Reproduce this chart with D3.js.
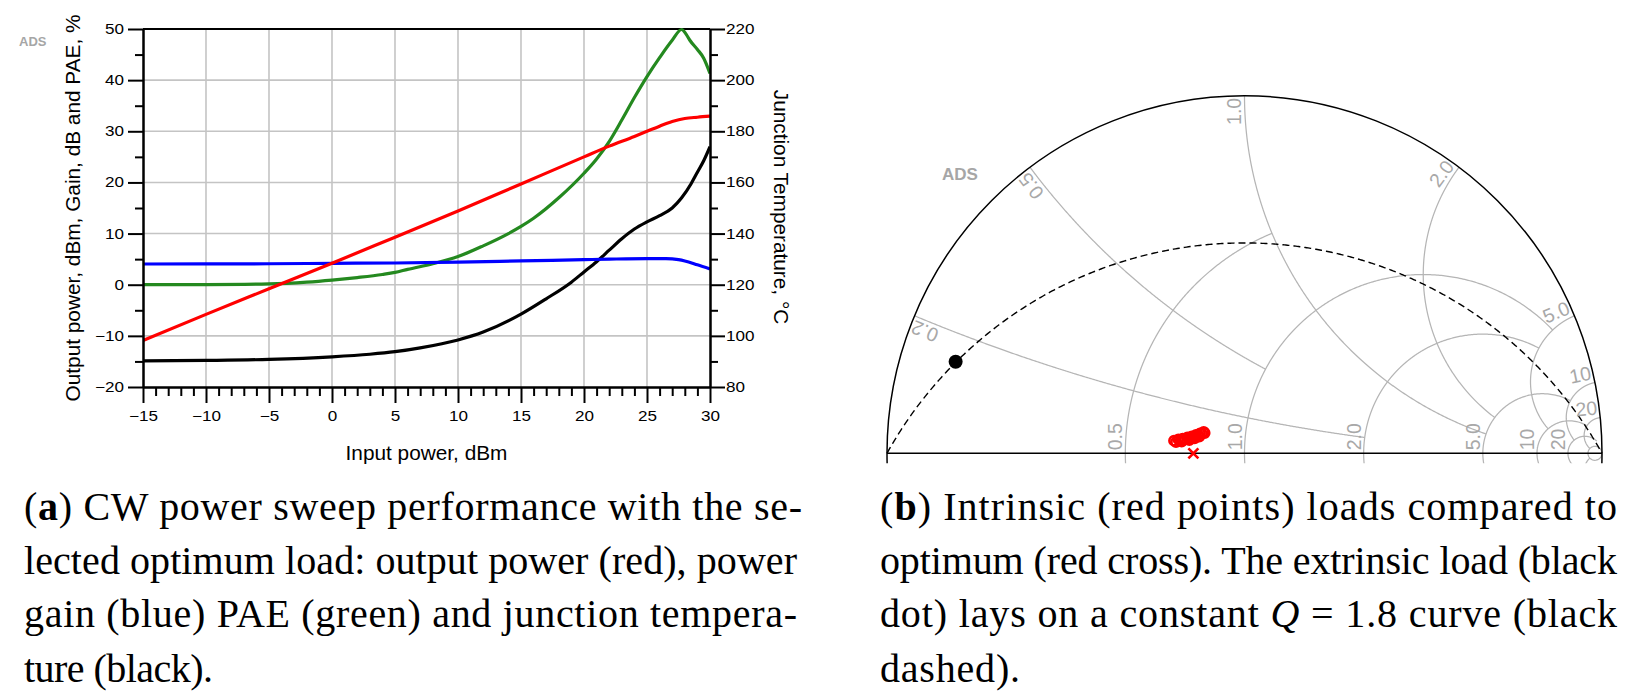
<!DOCTYPE html>
<html><head><meta charset="utf-8">
<script src="https://cdn.jsdelivr.net/npm/d3@7"></script>
<style>body{margin:0;background:#fff;} svg{display:block;}</style>
</head><body>
<svg id="c" width="1636" height="700"></svg>
<script>
// ---------- data: power sweep ----------
const pinMajorTicks = [-15,-10,-5,0,5,10,15,20,25,30];
const leftTicks = [-20,-10,0,10,20,30,40,50];
const rightTicks = [80,100,120,140,160,180,200,220];

const poutPin = [-15,-10,-5,0,5,10,15,20,22,24,25,26,27,28,29,30];
const poutDbm = [-10.9,-5.8,-0.8,4.2,9.3,14.4,19.7,25.0,27.1,29.0,30.0,31.0,31.9,32.5,32.75,32.95];

const gainPin = [-15,-10,-5,0,5,10,15,20,22,25,26.5,27.5,28,29,30];
const gainDb  = [4.05,4.07,4.1,4.18,4.25,4.4,4.65,4.9,5.0,5.1,5.1,4.9,4.65,3.9,3.1];

const paePin = [-15,-10,-5,-2,0,2,4,5,6,8,10,12,14,15,16,18,20,21,22,23,24,25,26,27,27.75,28.1,28.4,29,29.5,30];
const paePct = [0,0.02,0.15,0.5,0.9,1.4,2.0,2.4,3.0,4.1,5.5,7.6,10.0,11.4,13.0,17.0,21.8,24.6,28.0,32.2,36.6,40.7,44.4,47.8,49.9,49.0,47.8,46.0,44.3,41.3];

const tjPin = [-15,-10,-5,0,3,5,7,10,12,15,17,19,20,21,22,23,24,25,26,27,27.75,28.5,29,29.5,30];
const tjC   = [90.2,90.4,90.8,91.8,92.8,93.8,95.3,98.4,101.5,108.5,114.5,121,125,129,133.5,138,141.8,144.6,147,150,154,159.5,164,168.5,174];

// ---------- data: Smith chart ----------
const rCircles = [0.5,1,2,5,10,20,50];
const rCircleMaxX = [1,5,5,10,20,50,1000];
const xArcs = [0.2,0.5,1,2,5,10,20];
const xArcMaxR = [2,1,5,5,10,20,50];
const rLabels = ["0.5","1.0","2.0","5.0","10","20"];
const xLabels = ["0.2","0.5","1.0","2.0","5.0","10","20"];
const qConst = 1.8;
const extrinsicLoad = [-0.808, 0.256];
const optimumLoad = [-0.143, 0.0];
const intrinsicRe = [-0.1972,-0.1916,-0.1851,-0.1786,-0.1730,-0.1664,-0.1599,-0.1543,-0.1478,-0.1413,-0.1357,-0.1291,-0.1245,-0.1189,-0.1142,-0.1114,-0.1264,-0.1394,-0.1543,-0.1757];
const intrinsicIm = [0.0353,0.0316,0.0391,0.0363,0.0409,0.0391,0.0447,0.0419,0.0475,0.0465,0.0512,0.0512,0.0559,0.0549,0.0596,0.0568,0.0465,0.0419,0.0372,0.0325];

// ---------- captions ----------
const capA = [
  [["(",""],["a","b"],[") CW power sweep performance with the se-",""]],
  [["lected optimum load: output power (red), power",""]],
  [["gain (blue) PAE (green) and junction tempera-",""]],
  [["ture (black).",""]]
];
const capB = [
  [["(",""],["b","b"],[") Intrinsic (red points) loads compared to",""]],
  [["optimum (red cross). The extrinsic load (black",""]],
  [["dot) lays on a constant ",""],["Q","i"],[" = 1.8 curve (black",""]],
  [["dashed).",""]]
];

const svg = d3.select("#c");
const SANS = "'Liberation Sans', Arial, sans-serif";

// ================= LEFT CHART =================
const x = d3.scaleLinear().domain([-15,30]).range([143,710]);
const yL = d3.scaleLinear().domain([-20,50]).range([387,29]);
const yR = d3.scaleLinear().domain([80,220]).range([387,29]);
const L = svg.append("g");

// grid
L.append("g").selectAll("line").data(pinMajorTicks.slice(1,-1)).join("line")
  .attr("x1",d=>x(d)).attr("x2",d=>x(d)).attr("y1",yL(-20)).attr("y2",yL(50))
  .attr("stroke","#c4c4c4").attr("stroke-width",1.6);
L.append("g").selectAll("line").data(leftTicks.slice(1,-1)).join("line")
  .attr("y1",d=>yL(d)).attr("y2",d=>yL(d)).attr("x1",x(-15)).attr("x2",x(30))
  .attr("stroke","#c4c4c4").attr("stroke-width",1.6);
// top border
L.append("line").attr("x1",x(-15)).attr("x2",x(30)).attr("y1",yL(50)).attr("y2",yL(50))
  .attr("stroke","#000").attr("stroke-width",2);

// curves
const clipL = svg.append("defs").append("clipPath").attr("id","clipL");
clipL.append("rect").attr("x",x(-15)).attr("y",yL(50)-2).attr("width",x(30)-x(-15)).attr("height",yL(-20)-yL(50)+2);
const curves = L.append("g").attr("clip-path","url(#clipL)");
function drawSeries(xs, ys, yScale, color){
  const line = d3.line().x(d=>x(d[0])).y(d=>yScale(d[1])).curve(d3.curveMonotoneX);
  curves.append("path").attr("d", line(xs.map((v,i)=>[v,ys[i]])))
    .attr("fill","none").attr("stroke",color).attr("stroke-width",3.2)
    .attr("stroke-linejoin","round").attr("stroke-linecap","butt");
}
drawSeries(tjPin, tjC, yR, "#000000");
drawSeries(paePin, paePct, yL, "#24891f");
drawSeries(gainPin, gainDb, yL, "#0000ff");
drawSeries(poutPin, poutDbm, yL, "#ff0000");

// axes
function styleAxis(g){
  g.selectAll(".domain").attr("stroke","#000").attr("stroke-width",2);
  g.selectAll(".tick line").attr("stroke","#000").attr("stroke-width",2);
  g.selectAll("text").attr("font-family",SANS).attr("font-size",14).attr("fill","#000")
    .each(function(){
      const w = this.getComputedTextLength();
      if (w > 0) d3.select(this).attr("textLength", w*1.22).attr("lengthAdjust","spacingAndGlyphs");
    });
}
const minorX = d3.range(-15,31).filter(v=>v%5!==0);
const minorL = d3.range(-15,50,10);
const minorR = d3.range(90,220,20);

L.append("g").attr("transform",`translate(0,${yL(-20)})`)
  .call(d3.axisBottom(x).tickValues(minorX).tickSize(9).tickFormat("").tickSizeOuter(0)).call(styleAxis);
L.append("g").attr("transform",`translate(0,${yL(-20)})`)
  .call(d3.axisBottom(x).tickValues(pinMajorTicks).tickSize(16).tickPadding(8).tickSizeOuter(0)).call(styleAxis);
L.append("g").attr("transform",`translate(${x(-15)},0)`)
  .call(d3.axisLeft(yL).tickValues(minorL).tickSize(8).tickFormat("").tickSizeOuter(0)).call(styleAxis);
L.append("g").attr("transform",`translate(${x(-15)},0)`)
  .call(d3.axisLeft(yL).tickValues(leftTicks).tickSize(15).tickPadding(4).tickSizeOuter(0)).call(styleAxis);
L.append("g").attr("transform",`translate(${x(30)},0)`)
  .call(d3.axisRight(yR).tickValues(minorR).tickSize(8).tickFormat("").tickSizeOuter(0)).call(styleAxis);
L.append("g").attr("transform",`translate(${x(30)},0)`)
  .call(d3.axisRight(yR).tickValues(rightTicks).tickSize(15).tickPadding(1).tickSizeOuter(0)).call(styleAxis);

// titles
L.append("text").attr("x",(x(-15)+x(30))/2).attr("y",460).attr("text-anchor","middle")
  .attr("font-family",SANS).attr("font-size",20.8).text("Input power, dBm");
L.append("text").attr("transform",`translate(80,${(yL(50)+yL(-20))/2}) rotate(-90)`).attr("text-anchor","middle")
  .attr("font-family",SANS).attr("font-size",20.8).text("Output power, dBm, Gain, dB and PAE, %");
L.append("text").attr("transform",`translate(774,${(yL(50)+yL(-20))/2-1}) rotate(90)`).attr("text-anchor","middle")
  .attr("font-family",SANS).attr("font-size",20.8).text("Junction Temperature, °C");
L.append("text").attr("x",19).attr("y",46).attr("font-family",SANS).attr("font-weight","bold")
  .attr("font-size",13).attr("fill","#a6a6a6").text("ADS");

// ================= SMITH CHART =================
const cx = 1244.5, cy = 453.3, R = 357.5;
const sx = d3.scaleLinear().domain([-1,1]).range([cx-R, cx+R]);
const sy = d3.scaleLinear().domain([-1,1]).range([cy+R, cy-R]);
function gamma(r, xx){
  const den = (r+1)*(r+1) + xx*xx;
  return [(r*r + xx*xx - 1)/den, 2*xx/den];
}
const clipS = svg.select("defs").append("clipPath").attr("id","clipS");
clipS.append("rect").attr("x",cx-R-5).attr("y",0).attr("width",2*R+10).attr("height",cy+10);
const S = svg.append("g").attr("clip-path","url(#clipS)");
const sLine = d3.line().x(d=>sx(d[0])).y(d=>sy(d[1]));

const grid = S.append("g").attr("fill","none").attr("stroke","#b5b5b5").attr("stroke-width",1.25);
rCircles.forEach((r,i)=>{
  const tmax = Math.atan(rCircleMaxX[i]);
  const pts = d3.range(-400,401).map(k=>gamma(r, Math.tan(tmax*k/400)));
  grid.append("path").attr("d", sLine(pts));
});
xArcs.forEach((xx,i)=>{
  const tmax = Math.atan(xArcMaxR[i]);
  [1,-1].forEach(sg=>{
    const pts = d3.range(0,401).map(k=>gamma(Math.tan(tmax*k/400), sg*xx));
    grid.append("path").attr("d", sLine(pts));
  });
});

// outer circle + real axis
S.append("circle").attr("cx",sx(0)).attr("cy",sy(0)).attr("r",sx(1)-sx(0))
  .attr("fill","none").attr("stroke","#000").attr("stroke-width",1.5);
S.append("line").attr("x1",sx(-1)).attr("x2",sx(1)).attr("y1",sy(0)).attr("y2",sy(0))
  .attr("stroke","#000").attr("stroke-width",1.4);

// constant Q curve
const qpts = d3.range(0,601).map(k=>{
  const r = Math.tan((Math.PI/2 - 1e-4)*k/600);
  return gamma(r, qConst*r);
});
S.append("path").attr("d", sLine(qpts)).attr("fill","none").attr("stroke","#000")
  .attr("stroke-width",1.4).attr("stroke-dasharray","7,4");

// grid labels
const lab = S.append("g").attr("font-family",SANS).attr("font-size",19.5).attr("fill","#a8a8a8");
rCircles.slice(0, rLabels.length).forEach((r,i)=>{
  const g0 = (r-1)/(r+1);
  lab.append("text").attr("transform",`translate(${sx(g0)-3},${sy(0)-3}) rotate(-90)`)
    .attr("text-anchor","start").text(rLabels[i]);
});
xArcs.forEach((xx,i)=>{
  const th = Math.PI - 2*Math.atan(xx);
  const px = sx(0) + (R-2)*Math.cos(th) - 3.5*Math.sin(th);
  const py = sy(0) - (R-2)*Math.sin(th) - 3.5*Math.cos(th);
  lab.append("text").attr("transform",`translate(${px},${py}) rotate(${-th*180/Math.PI})`)
    .attr("text-anchor","end").text(xLabels[i]);
});

// intrinsic loads
S.append("g").selectAll("circle").data(intrinsicRe.map((v,i)=>[v,intrinsicIm[i]])).join("circle")
  .attr("cx",d=>sx(d[0])).attr("cy",d=>sy(d[1])).attr("r",4.6)
  .attr("fill","none").attr("stroke","#ff0000").attr("stroke-width",2.6);
// optimum cross
const ox = sx(optimumLoad[0]), oy = sy(optimumLoad[1]);
S.append("path").attr("d",`M${ox-5},${oy-5}L${ox+5},${oy+5}M${ox-5},${oy+5}L${ox+5},${oy-5}`)
  .attr("stroke","#ff0000").attr("stroke-width",2.6);
// extrinsic load
S.append("circle").attr("cx",sx(extrinsicLoad[0])).attr("cy",sy(extrinsicLoad[1])).attr("r",7).attr("fill","#000");

svg.append("text").attr("x",942).attr("y",180).attr("font-family",SANS).attr("font-weight","bold")
  .attr("font-size",17).attr("fill","#a6a6a6").text("ADS");

// ================= CAPTIONS =================
function caption(lines, x0, widths){
  const baselines = [520, 573.5, 627, 681.5];
  lines.forEach((parts,i)=>{
    const t = svg.append("text").attr("x",x0).attr("y",baselines[i])
      .attr("font-family","'Liberation Serif','Times New Roman',serif").attr("font-size",40)
      .attr("fill","#000").attr("textLength",widths[i]).attr("lengthAdjust","spacing");
    parts.forEach(p=>{
      const ts = t.append("tspan").text(p[0]);
      if(p[1]==="b") ts.attr("font-weight","bold");
      if(p[1]==="i") ts.attr("font-style","italic");
    });
  });
}
caption(capA, 24, [778, 773, 773, 189]);
caption(capB, 880, [737, 737, 737, 140]);
</script>
</body></html>
